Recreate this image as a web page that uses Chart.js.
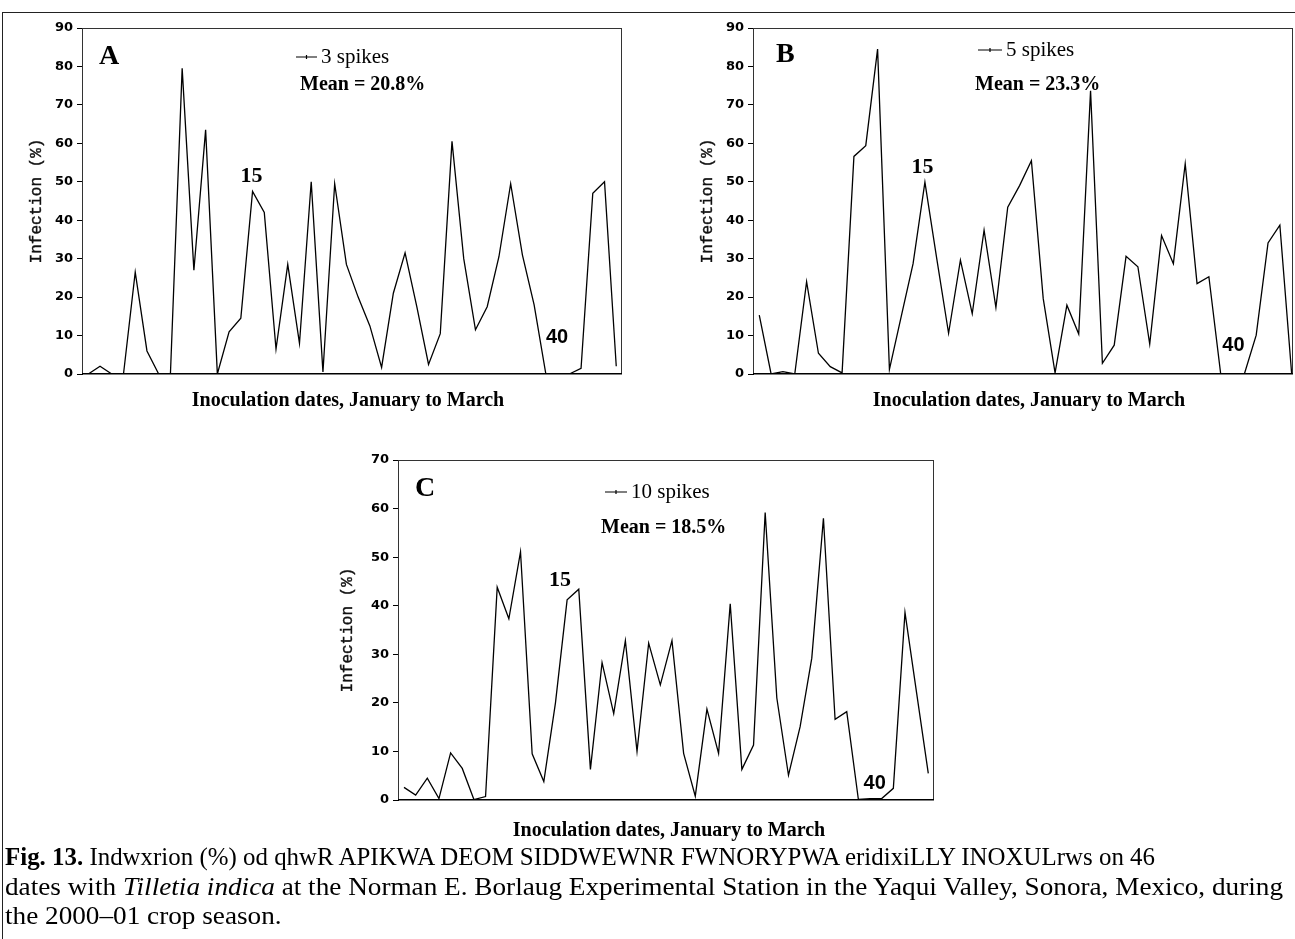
<!DOCTYPE html>
<html><head><meta charset="utf-8">
<script src="https://cdn.jsdelivr.net/npm/chart.js@4.4.1/dist/chart.umd.min.js"></script>
<style>
html,body{margin:0;padding:0;background:#fff;width:1295px;height:939px;overflow:hidden;position:relative}
canvas{position:absolute;left:0;top:0}
#frame{position:absolute;left:2px;top:12px;width:1400px;height:1000px;border-left:1px solid #222;border-top:1px solid #222}
.cap{position:absolute;left:5px;font-family:'Liberation Serif','Times New Roman',serif;font-size:25px;white-space:nowrap;transform-origin:0 50%;line-height:1;color:#000}
</style></head><body>
<div id="frame"></div>
<canvas id="cA" width="1295" height="939"></canvas>
<canvas id="cB" width="1295" height="939"></canvas>
<canvas id="cC" width="1295" height="939"></canvas>
<div class="cap" id="l1" style="top:844px"><b>Fig. 13.</b> Indwxrion (%) od qhwR APIKWA DEOM SIDDWEWNR FWNORYPWA eridixiLLY INOXULrws on 46</div>
<div class="cap" id="l2" style="top:874px">dates with <i>Tilletia indica</i> at the Norman E. Borlaug Experimental Station in the Yaqui Valley, Sonora, Mexico, during</div>
<div class="cap" id="l3" style="top:903px">the 2000–01 crop season.</div>
<script>
// ---- data ----
const dates = [1,2,3,4,5,6,7,8,9,10,11,12,13,14,15,16,17,18,19,20,21,22,23,24,25,26,27,28,29,30,31,32,33,34,35,36,37,38,39,40,41,42,43,44,45,46];
const spikes3 = [0,2,0,0,26.5,6,0,0,79.5,27,63.5,0,11,14.5,47.5,42,6.5,28.5,8,50,0.5,49.5,28.5,20,12.5,1.7,21,31.5,17.5,2.5,10.5,60.5,30,11.5,17.5,30.5,49.5,31,18,0,null,0,1.5,47,50,2];
const spikes5 = [15.3,0,0.6,0,24,5.4,1.9,0.3,56.6,59.4,84.5,1.2,15,28.7,49.9,30,10.6,29.6,15.7,37.4,17.3,43.4,49,55.5,19.6,0.3,17.9,10.4,73.7,2.8,7.5,30.6,27.9,7.8,36,28.7,54.7,23.5,25.3,0,0,0,10.1,34.1,38.7,0];
const spikes10 = [2.6,1,4.5,0.3,9.7,6.5,0.1,0.7,43.8,37.3,51.1,9.5,3.8,20,41.2,43.4,6.3,28.3,17.8,32.8,10,32.3,23.7,32.8,9.6,0.8,18.7,9.6,40.4,6.3,11.3,59.2,21,5.1,15.1,29.2,58,16.6,18.2,0.1,0.3,0.3,2.4,38.6,22,5.5];
const panelLetters = ['A','B','C'];
const seriesNames = ['3 spikes','5 spikes','10 spikes'];
const meanLabels = ['Mean = 20.8%','Mean = 23.3%','Mean = 18.5%'];
const markDates = ['15','40'];
const yTicksA = [0,10,20,30,40,50,60,70,80,90];
const yTicksC = [0,10,20,30,40,50,60,70];
const yTitle = 'Infection (%)';
const xTitle = 'Inoculation dates, January to March';

const annotPlugin = {
  id:'annot',
  afterDraw(chart, args, o){
    const ctx = chart.ctx, ca = chart.chartArea, xs = chart.scales.x, ys = chart.scales.y;
    ctx.save();
    // plot box
    ctx.strokeStyle = '#333'; ctx.lineWidth = 1;
    ctx.strokeRect(Math.round(ca.left)+0.5, Math.round(ca.top)+0.5, Math.round(ca.right-ca.left)-1, Math.round(ca.bottom-ca.top)-1);
    ctx.strokeStyle = '#000'; ctx.lineWidth = 1.5;
    ctx.beginPath(); ctx.moveTo(ca.left, Math.round(ca.bottom)-0.25); ctx.lineTo(ca.right, Math.round(ca.bottom)-0.25); ctx.stroke();
    ctx.fillStyle = '#000';
    ctx.textBaseline = 'middle';
    // panel letter
    ctx.font = 'bold 28px "Liberation Serif"'; ctx.textAlign = 'left';
    ctx.fillText(o.letter, o.letterAt[0], o.letterAt[1]);
    // legend
    ctx.lineWidth = 1.2;
    ctx.beginPath(); ctx.moveTo(o.legAt[0], o.legAt[1]); ctx.lineTo(o.legAt[0]+o.legLen, o.legAt[1]);
    ctx.moveTo(o.legAt[0]+o.legLen/2, o.legAt[1]-2); ctx.lineTo(o.legAt[0]+o.legLen/2, o.legAt[1]+2); ctx.stroke();
    ctx.font = '21px "Liberation Serif"';
    ctx.fillText(o.name, o.legAt[0]+o.legLen+4, o.legAt[1]);
    ctx.font = 'bold 20px "Liberation Serif"';
    ctx.fillText(o.mean, o.meanAt[0], o.meanAt[1]);
    // date marks
    ctx.textAlign = 'center';
    ctx.font = 'bold 22px "Liberation Serif"';
    ctx.fillText(markDates[0], xs.getPixelForValue(o.m15[0]), ys.getPixelForValue(o.m15[1]));
    ctx.font = 'bold 20px "Liberation Sans"';
    ctx.fillText(markDates[1], xs.getPixelForValue(o.m40[0]), ys.getPixelForValue(o.m40[1]));
    // x title
    ctx.font = 'bold 20px "Liberation Serif"';
    ctx.fillText(xTitle, o.xTitleAt[0], o.xTitleAt[1]);
    // y title
    ctx.save();
    ctx.translate(o.yTitleX, (ca.top+ca.bottom)/2);
    ctx.rotate(-Math.PI/2);
    ctx.font = '16px "Liberation Mono"'; ctx.fillStyle = '#111'; ctx.strokeStyle = '#111'; ctx.lineWidth = 0.4;
    ctx.fillText(yTitle, 0, 0);
    ctx.strokeText(yTitle, 0, 0);
    ctx.restore();
    ctx.restore();
  }
};

function makeChart(id, values, ticks, cfg){
  return new Chart(document.getElementById(id), {
    type:'line',
    data:{ datasets:[{ data: dates.map((d,i)=>({x:d, y:values[i]})), borderColor:'#000', borderWidth:1.3, pointRadius:0, tension:0, spanGaps:false, fill:false }]},
    options:{
      responsive:false, animation:false, devicePixelRatio:1,
      layout:{padding:{left:0, top:cfg.top, right:1295-cfg.right, bottom:939-cfg.bottom}},
      plugins:{legend:{display:false}, tooltip:{enabled:false}, annot:cfg},
      scales:{
        x:{type:'linear', display:false, min:cfg.xmin, max:cfg.xmax},
        y:{min:0, max:ticks[ticks.length-1], afterFit(s){ s.width = cfg.left; },
           afterBuildTicks(s){ s.ticks = ticks.map(v=>({value:v})); },
           ticks:{font:{family:'DejaVu Sans', weight:'bold', size:13}, color:'#000', padding:4},
           grid:{display:true, drawOnChartArea:false, drawTicks:true, tickLength:5, color:'#000'},
           border:{display:true, color:'#000'}}
      }
    },
    plugins:[annotPlugin]
  });
}

makeChart('cA', spikes3, yTicksA, {left:82, top:28, right:622, bottom:374, xmin:0.463, xmax:46.49,
  letter:panelLetters[0], letterAt:[99,57], legAt:[296,57], legLen:21, name:seriesNames[0], meanAt:[300,85], mean:meanLabels[0],
  m15:[14.9,51.5], m40:[40.95,9.5], xTitleAt:[348,401], yTitleX:37});
makeChart('cB', spikes5, yTicksA, {left:753, top:28, right:1293, bottom:374, xmin:0.47, xmax:46.11,
  letter:panelLetters[1], letterAt:[776,55], legAt:[978,50], legLen:24, name:seriesNames[1], meanAt:[975,85], mean:meanLabels[1],
  m15:[14.8,53.7], m40:[41.08,7.4], xTitleAt:[1029,401], yTitleX:708});
makeChart('cC', spikes10, yTicksC, {left:398, top:460, right:934, bottom:800, xmin:0.485, xmax:46.49,
  letter:panelLetters[2], letterAt:[415,489], legAt:[605,492], legLen:22, name:seriesNames[2], meanAt:[601,528], mean:meanLabels[2],
  m15:[14.4,45.2], m40:[41.4,3.3], xTitleAt:[669,831], yTitleX:348});

// caption: fit lines to the widths they have in the reference (line 3 shares line 2's scale)
(function(){
  const l1 = document.getElementById('l1'), l2 = document.getElementById('l2'), l3 = document.getElementById('l3');
  const s1 = 1150 / l1.getBoundingClientRect().width;
  const s2 = 1278 / l2.getBoundingClientRect().width;
  l1.style.transform = 'scaleX('+s1+')';
  l2.style.transform = 'scaleX('+s2+')';
  l3.style.transform = 'scaleX('+s2+')';
})();
</script>
</body></html>
